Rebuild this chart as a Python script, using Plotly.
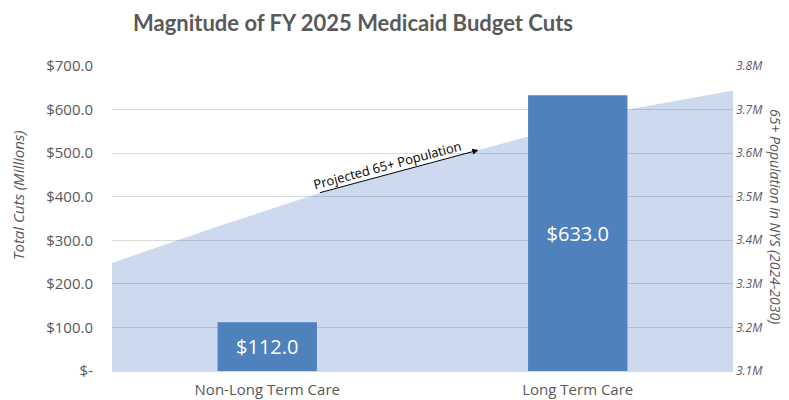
import plotly.graph_objects as go

# Data
categories = ["Non-Long Term Care", "Long Term Care"]
cuts_millions = [112.0, 633.0]
years = [2024, 2025, 2026, 2027, 2028, 2029, 2030]
population_m = [3.348, 3.430, 3.508, 3.572, 3.636, 3.701, 3.744]
left_ticks = [0, 100, 200, 300, 400, 500, 600, 700]
left_ticktext = ["$-", "$100.0", "$200.0", "$300.0", "$400.0", "$500.0", "$600.0", "$700.0"]
right_ticks = [3.1, 3.2, 3.3, 3.4, 3.5, 3.6, 3.7, 3.8]
right_ticktext = ["3.1M", "3.2M", "3.3M", "3.4M", "3.5M", "3.6M", "3.7M", "3.8M"]

GRAY = "#595959"
FONT = "Open Sans"

fig = go.Figure()

# Area (population) on main axes x / y (y on right side)
fig.add_trace(go.Scatter(
    x=list(range(len(years))), y=population_m,
    mode="lines", line=dict(width=0, color="rgba(0,0,0,0)"),
    fill="tozeroy", fillcolor="rgba(68,114,196,0.27)",
    xaxis="x", yaxis="y", hoverinfo="skip", showlegend=False,
))

# Bars on overlay axes x2 / y2 (drawn on top)
fig.add_trace(go.Bar(
    x=categories, y=cuts_millions,
    marker=dict(color="#4f81bd", line=dict(width=0)),
    text=[f"${v:.1f}" for v in cuts_millions],
    textposition="inside", insidetextanchor="middle",
    textfont=dict(family=FONT, size=20, color="white"),
    xaxis="x2", yaxis="y2", showlegend=False,
))

fig.update_layout(
    width=789, height=400,
    margin=dict(l=112, r=56, t=66, b=29, autoexpand=False),
    paper_bgcolor="white", plot_bgcolor="white",
    bargap=0.68,
    font=dict(family=FONT, color=GRAY),
    title=dict(text="<b>Magnitude of FY 2025 Medicaid Budget Cuts</b>",
               x=353 / 789, xanchor="center", y=1 - 23 / 400, yanchor="middle",
               font=dict(family="Lato", size=22, color=GRAY)),
    xaxis=dict(range=[0, len(years) - 1], visible=False, showgrid=False, zeroline=False,
               automargin=False),
    yaxis=dict(range=[3.1, 3.8], side="right", tickvals=right_ticks, ticktext=right_ticktext,
               tickfont=dict(family=FONT, size=12, color=GRAY, style="italic"),
               showgrid=True, gridcolor="#d9d9d9", gridwidth=1, zeroline=False,
               ticks="", ticklabelstandoff=2, automargin=False),
    xaxis2=dict(overlaying="x", type="category", side="bottom",
                tickfont=dict(family=FONT, size=15, color=GRAY),
                showgrid=False, zeroline=False, ticks="", ticklabelstandoff=5,
                showline=True, linecolor="#d9d9d9", automargin=False),
    yaxis2=dict(overlaying="y", side="left", range=[0, 700], tickvals=left_ticks,
                ticktext=left_ticktext, tickfont=dict(family=FONT, size=15, color=GRAY),
                showgrid=False, zeroline=False, ticks="", ticklabelstandoff=18,
                automargin=False),
    annotations=[
        dict(text="<i>Total Cuts (Millions)</i>", textangle=-90, showarrow=False,
             xref="paper", yref="paper", x=-94 / 621, y=(371 - 195) / 305,
             xanchor="center", yanchor="middle",
             font=dict(family=FONT, size=15, color=GRAY)),
        dict(text="<i>65+ Population in NYS (2024-2030)</i>", textangle=90, showarrow=False,
             xref="paper", yref="paper", x=(776 - 112) / 621, y=(371 - 216) / 305,
             xanchor="center", yanchor="middle",
             font=dict(family=FONT, size=14, color=GRAY)),
        dict(text="", x=3.54, y=3.607, xref="x", yref="y",
             showarrow=True, ax=-160, ay=43, axref="pixel", ayref="pixel",
             arrowhead=2, arrowsize=1.2, arrowwidth=1, arrowcolor="black"),
        dict(text="Projected 65+ Population", textangle=-15, showarrow=False,
             x=2.66, y=3.573, xref="x", yref="y", xanchor="center", yanchor="middle",
             font=dict(family=FONT, size=13, color="black")),
    ],
)

fig.write_html("out.html")
